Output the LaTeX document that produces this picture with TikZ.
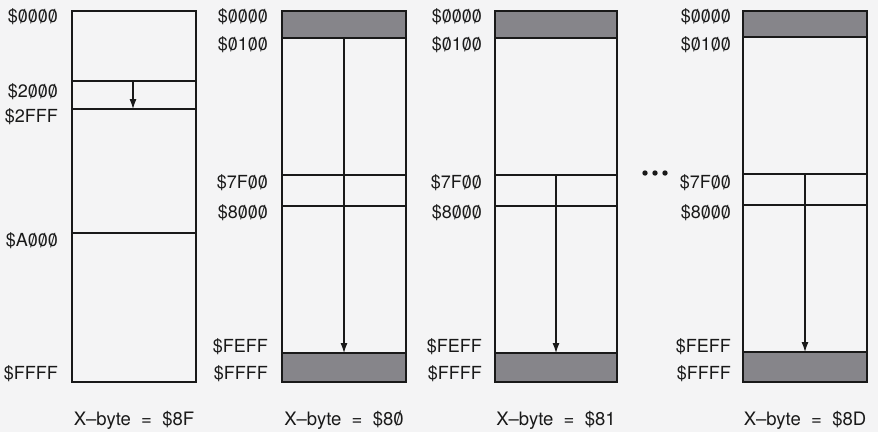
\documentclass[tikz,border=0pt]{standalone}
\usepackage{fontspec}
\setmainfont{TeX Gyre Heros}
\usetikzlibrary{arrows.meta}
\definecolor{paper}{RGB}{244,244,245}
\definecolor{band}{RGB}{134,133,138}
\definecolor{ink}{RGB}{25,25,25}
\newcommand\zs{{\ooalign{0\cr\hidewidth\raisebox{-0.04em}{\scalebox{1}[1.08]{/}}\hidewidth\cr}}}
\tikzset{
  outer/.style={draw=ink, line width=2.4pt},
  inner/.style={draw=ink, line width=1.1pt},
  bandfill/.style={fill=band},
  arr/.style={draw=ink, line width=1.1pt, -{Latex[length=10pt,width=7pt]}},
  addr/.style={anchor=east, inner sep=0pt, text=ink, font=\fontsize{18}{20}\selectfont},
  xlab/.style={anchor=center, inner sep=0pt, text=ink, font=\fontsize{18.5}{20}\selectfont},
  dot/.style={fill=ink}
}
\begin{document}
\begin{tikzpicture}[x=1pt,y=-1pt]
\fill[paper] (0,0) rectangle (878,432);
\useasboundingbox (0,0) rectangle (878,432);

% ---------- Box 1 : X-byte = $8F ----------
\coordinate (a2000) at (133,81);
\coordinate (a2fff) at (133,109);
\draw[inner] (72,81) -- (196,81);
\draw[inner] (72,109) -- (196,109);
\draw[inner] (72,233) -- (196,233);
\draw[arr] (a2000) -- (a2fff);
\draw[outer] (72,11) rectangle (196,382);
\node[addr] (l1a) at (58,17) {\$\zs\zs\zs\zs};
\node[addr] (l1b) at (58,92) {\$2\zs\zs\zs};
\node[addr] (l1c) at (58,117) {\$2FFF};
\node[addr] (l1d) at (58,241) {\$A\zs\zs\zs};
\node[addr] (l1e) at (58,374) {\$FFFF};
\node[xlab] (x1) at (134,420) {X–byte\ \ =\ \ \$8F};

% ---------- Box 2 : X-byte = $80 ----------
\fill[bandfill] (282,11) rectangle (406,38);
\fill[bandfill] (282,353) rectangle (406,382);
\draw[inner] (282,38) -- (406,38);
\draw[inner] (282,175) -- (406,175);
\draw[inner] (282,206) -- (406,206);
\draw[inner] (282,353) -- (406,353);
\coordinate (b2top) at (344,38);
\coordinate (b2bot) at (344,353);
\draw[arr] (b2top) -- (b2bot);
\draw[outer] (282,11) rectangle (406,382);
\node[addr] (l2a) at (268,17) {\$\zs\zs\zs\zs};
\node[addr] (l2b) at (268,45) {\$\zs1\zs\zs};
\node[addr] (l2c) at (268,183) {\$7F\zs\zs};
\node[addr] (l2d) at (268,213) {\$8\zs\zs\zs};
\node[addr] (l2e) at (268,347) {\$FEFF};
\node[addr] (l2f) at (268,374) {\$FFFF};
\node[xlab] (x2) at (344,420) {X–byte\ \ =\ \ \$8\zs};

% ---------- Box 3 : X-byte = $81 ----------
\fill[bandfill] (495,11) rectangle (617,38);
\fill[bandfill] (495,353) rectangle (617,382);
\draw[inner] (495,38) -- (617,38);
\draw[inner] (495,175) -- (617,175);
\draw[inner] (495,206) -- (617,206);
\draw[inner] (495,353) -- (617,353);
\coordinate (b3top) at (556,175);
\coordinate (b3bot) at (556,353);
\draw[arr] (b3top) -- (b3bot);
\draw[outer] (495,11) rectangle (617,382);
\node[addr] (l3a) at (482,17) {\$\zs\zs\zs\zs};
\node[addr] (l3b) at (482,45) {\$\zs1\zs\zs};
\node[addr] (l3c) at (482,183) {\$7F\zs\zs};
\node[addr] (l3d) at (482,213) {\$8\zs\zs\zs};
\node[addr] (l3e) at (482,347) {\$FEFF};
\node[addr] (l3f) at (482,374) {\$FFFF};
\node[xlab] (x3) at (556,420) {X–byte\ \ =\ \ \$81};

% ellipsis
\fill[dot] (645,173) circle (2.7);
\fill[dot] (655,173) circle (2.7);
\fill[dot] (665,173) circle (2.7);

% ---------- Box 4 : X-byte = $8D ----------
\fill[bandfill] (743,11) rectangle (867,37);
\fill[bandfill] (743,352) rectangle (867,382);
\draw[inner] (743,37) -- (867,37);
\draw[inner] (743,174) -- (867,174);
\draw[inner] (743,205) -- (867,205);
\draw[inner] (743,352) -- (867,352);
\coordinate (b4top) at (805,174);
\coordinate (b4bot) at (805,352);
\draw[arr] (b4top) -- (b4bot);
\draw[outer] (743,11) rectangle (867,382);
\node[addr] (l4a) at (731,17) {\$\zs\zs\zs\zs};
\node[addr] (l4b) at (731,45) {\$\zs1\zs\zs};
\node[addr] (l4c) at (731,183) {\$7F\zs\zs};
\node[addr] (l4d) at (731,213) {\$8\zs\zs\zs};
\node[addr] (l4e) at (731,347) {\$FEFF};
\node[addr] (l4f) at (731,374) {\$FFFF};
\node[xlab] (x4) at (805,420) {X–byte\ \ =\ \ \$8D};
\end{tikzpicture}
\end{document}
